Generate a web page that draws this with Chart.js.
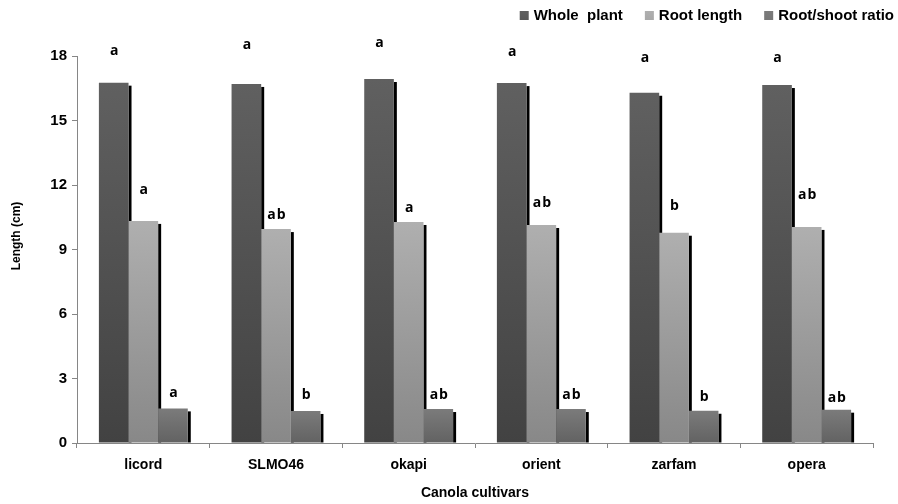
<!DOCTYPE html>
<html>
<head>
<meta charset="utf-8">
<script src="https://cdn.jsdelivr.net/npm/chart.js@4.4.1/dist/chart.umd.min.js"></script>
<style>
  html, body { margin: 0; padding: 0; background: #ffffff; }
  #wrap { width: 898px; height: 504px; }
</style>
</head>
<body>
<div id="wrap"><canvas id="c" width="898" height="504"></canvas></div>
<script>
// ---- data ----
const categories = ['licord', 'SLMO46', 'okapi', 'orient', 'zarfam', 'opera'];
const seriesNames = ['Whole  plant', 'Root length', 'Root/shoot ratio'];
const wholePlant = [16.76, 16.70, 16.93, 16.74, 16.29, 16.65];
const rootLength = [10.33, 9.95, 10.28, 10.14, 9.78, 10.05];
const rootShootRatio = [1.61, 1.49, 1.58, 1.58, 1.50, 1.55];
const lettersWhole = ['a', 'a', 'a', 'a', 'a', 'a'];
const lettersRoot = ['a', 'ab', 'a', 'ab', 'b', 'ab'];
const lettersRatio = ['a', 'b', 'ab', 'ab', 'b', 'ab'];
const yTickValues = [0, 3, 6, 9, 12, 15, 18];
const yTitle = 'Length (cm)';
const xTitle = 'Canola cultivars';

// ---- style ----
const FONT = "'Liberation Sans', Arial, sans-serif";
const AXIS_COLOR = '#868686';
const barTop = ['#606060', '#afafaf', '#7b7b7b'];
const barBottom = ['#424242', '#888888', '#626262'];
const legendColor = ['#585858', '#a8a8a8', '#777777'];
// label lift above bar top (px)
const labelLift = [
  [32, 39, 36, 31, 35, 27],
  [31, 14, 14, 22, 27, 32],
  [15, 16, 14, 14, 14, 12]
];
const letters = [lettersWhole, lettersRoot, lettersRatio];

function gradFill(i) {
  return (ctx) => {
    const chart = ctx.chart;
    const sc = chart.scales && chart.scales.y;
    if (!sc || ctx.type !== 'data' || !chart.chartArea) return barBottom[i];
    const yT = sc.getPixelForValue(ctx.raw);
    const yB = sc.getPixelForValue(0);
    const g = chart.ctx.createLinearGradient(0, yT, 0, yB);
    g.addColorStop(0, barTop[i]);
    g.addColorStop(1, barBottom[i]);
    return g;
  };
}

const shadowPlugin = {
  id: 'shadows',
  beforeDatasetsDraw(chart) {
    const ctx = chart.ctx;
    ctx.save();
    ctx.fillStyle = '#000000';
    chart.data.datasets.forEach((ds, i) => {
      chart.getDatasetMeta(i).data.forEach((bar) => {
        const right = bar.x + bar.width / 2;
        const top = bar.y + 3;
        ctx.fillRect(right, top, 3, bar.base - top);
      });
    });
    ctx.restore();
  }
};

const letterPlugin = {
  id: 'letters',
  afterDatasetsDraw(chart) {
    const ctx = chart.ctx;
    ctx.save();
    ctx.fillStyle = '#000000';
    ctx.font = "bold 14px 'Open Sans', 'DejaVu Sans', sans-serif";
    ctx.textAlign = 'center';
    ctx.textBaseline = 'middle';
    try { ctx.letterSpacing = '1px'; } catch (e) {}
    chart.data.datasets.forEach((ds, i) => {
      chart.getDatasetMeta(i).data.forEach((bar, j) => {
        ctx.fillText(letters[i][j], bar.x + 1, bar.y - labelLift[i][j]);
      });
    });
    ctx.restore();
  }
};

const titleAndLegendPlugin = {
  id: 'customLegend',
  afterDraw(chart) {
    const ctx = chart.ctx;
    ctx.save();
    // y axis title
    ctx.save();
    ctx.translate(17, 236);
    ctx.rotate(-Math.PI / 2);
    ctx.font = 'bold 12px ' + FONT;
    ctx.fillStyle = '#000000';
    ctx.textAlign = 'center';
    ctx.textBaseline = 'middle';
    ctx.fillText(yTitle, 0, 0);
    ctx.restore();
    // legend
    ctx.font = 'bold 15px ' + FONT;
    ctx.textBaseline = 'middle';
    ctx.textAlign = 'left';
    let xRight = 894;
    const cy = 15.5;
    for (let i = seriesNames.length - 1; i >= 0; i--) {
      const w = ctx.measureText(seriesNames[i]).width;
      const textX = xRight - w;
      const boxX = textX - 5 - 9;
      const g = ctx.createLinearGradient(0, cy - 4.5, 0, cy + 4.5);
      g.addColorStop(0, barTop[i]);
      g.addColorStop(1, legendColor[i]);
      ctx.fillStyle = g;
      ctx.fillRect(boxX, cy - 4.5, 9, 9);
      ctx.fillStyle = '#000000';
      ctx.fillText(seriesNames[i], textX, cy + 0.5);
      xRight = boxX - 22;
    }
    ctx.restore();
  }
};

const seriesValues = [wholePlant, rootLength, rootShootRatio];

new Chart(document.getElementById('c'), {
  type: 'bar',
  data: {
    labels: categories,
    datasets: seriesValues.map((vals, i) => ({
      label: seriesNames[i],
      data: vals,
      backgroundColor: gradFill(i),
      borderWidth: 0,
      categoryPercentage: 0.67,
      barPercentage: 1.0
    }))
  },
  options: {
    responsive: false,
    animation: false,
    events: [],
    layout: { padding: { top: 56, right: 25, bottom: 0, left: 0 } },
    plugins: {
      legend: { display: false },
      tooltip: { enabled: false }
    },
    scales: {
      x: {
        grid: { display: true, drawOnChartArea: false, drawTicks: true, tickLength: 5, color: AXIS_COLOR, offset: true },
        border: { display: true, color: AXIS_COLOR, width: 1 },
        ticks: { color: '#000000', font: { family: FONT, size: 14, weight: 'bold' }, padding: 9 },
        title: { display: true, text: xTitle, color: '#000000', font: { family: FONT, size: 14, weight: 'bold' }, padding: { top: 0, bottom: 2 } },
        afterFit(scale) { scale.height = 61; }
      },
      y: {
        min: 0,
        max: 18,
        afterBuildTicks(scale) { scale.ticks = yTickValues.map(v => ({ value: v })); },
        grid: { display: true, drawOnChartArea: false, drawTicks: true, tickLength: 5, color: AXIS_COLOR },
        border: { display: true, color: AXIS_COLOR, width: 1 },
        ticks: { color: '#000000', font: { family: FONT, size: 15, weight: 'bold' }, padding: 5 },
        title: { display: false },
        afterFit(scale) { scale.width = 77; }
      }
    }
  },
  plugins: [shadowPlugin, letterPlugin, titleAndLegendPlugin]
});
</script>
</body>
</html>
